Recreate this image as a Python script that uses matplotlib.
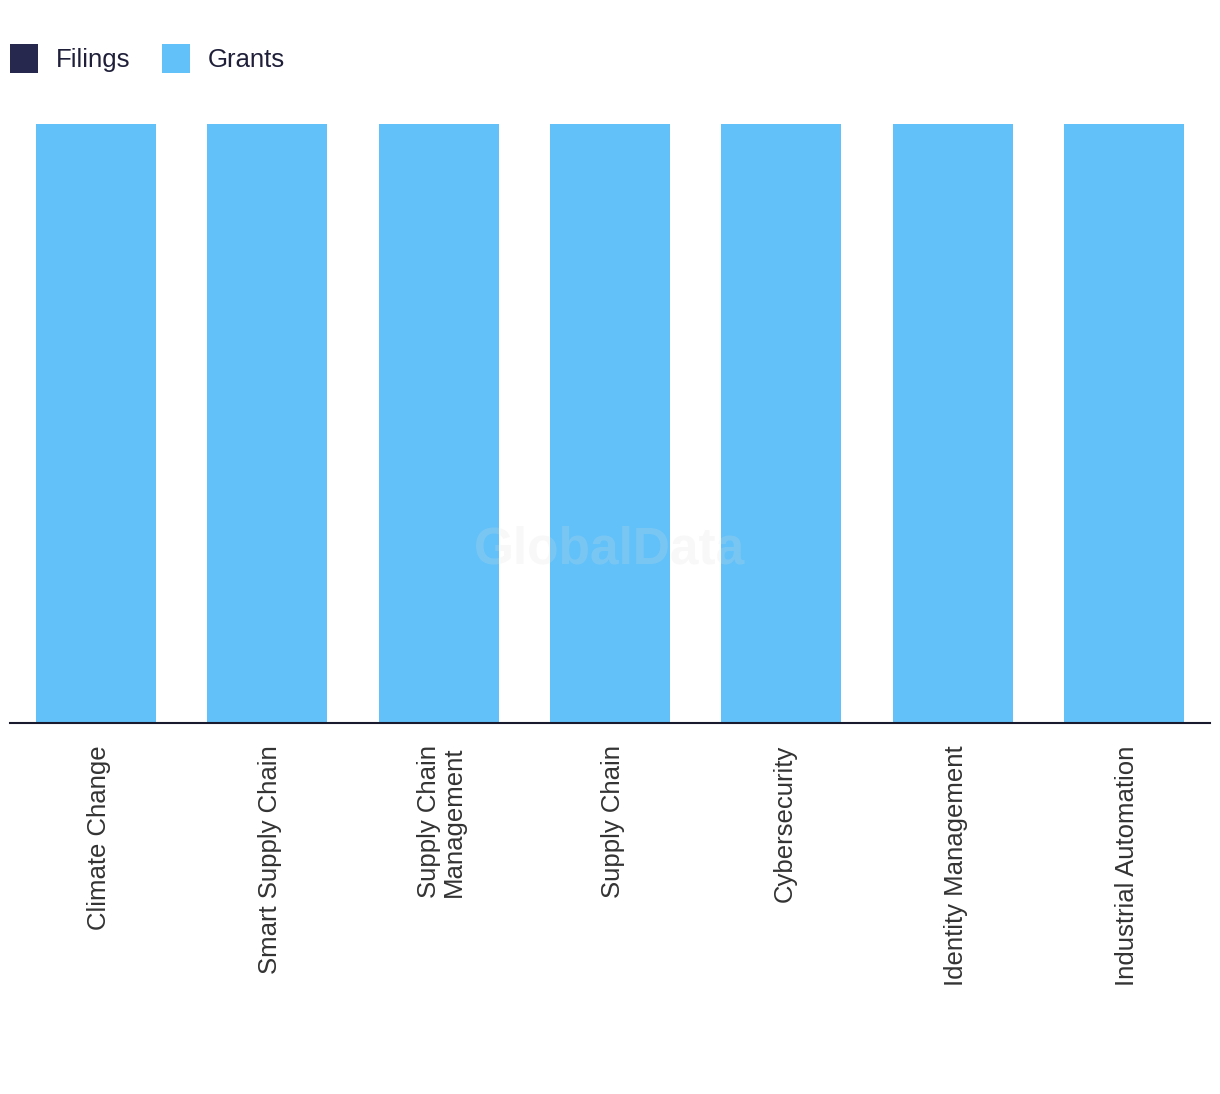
import numpy as np
import matplotlib
matplotlib.use("Agg")
import matplotlib.pyplot as plt
import matplotlib.transforms as mtransforms

# data
categories = ["Climate Change", "Smart Supply Chain", "Supply Chain\nManagement",
              "Supply Chain", "Cybersecurity", "Identity Management",
              "Industrial Automation"]
filings = [0, 0, 0, 0, 0, 0, 0]
grants = [100, 100, 100, 100, 100, 100, 100]

c_filings = "#26284D"
c_grants = "#62C1F9"

fig = plt.figure(figsize=(12.2, 10.94), dpi=100)
ax = fig.add_axes([10 / 1220, 1 - 723 / 1094, 1200 / 1220, (723 - 124) / 1094])

x = np.arange(len(categories))
ax.bar(x, filings, width=0.7, color=c_filings, label="Filings")
ax.bar(x, grants, width=0.7, bottom=filings, color=c_grants, label="Grants")

ax.set_xlim(-0.5, len(categories) - 0.5)
ax.set_ylim(0, 100)
ax.set_xticks(x)
ax.set_xticklabels(categories, rotation=90, fontsize=18.5, color="#333333",
                   family="Liberation Sans", va="top", ha="center",
                   linespacing=1.05)
ax.tick_params(axis="x", length=0, pad=16)
# nudge labels a little to the right
shift = mtransforms.ScaledTranslation(3 / 100, 0, fig.dpi_scale_trans)
for lbl in ax.get_xticklabels():
    lbl.set_transform(lbl.get_transform() + shift)
ax.set_yticks([])
for s in ["left", "right", "top"]:
    ax.spines[s].set_visible(False)
ax.spines["bottom"].set_color("#1a1a2e")
ax.spines["bottom"].set_linewidth(1.5)

# watermark
ax.text(0.5, 1 - (550 - 124) / (723 - 124), "GlobalData", transform=ax.transAxes,
        ha="center", va="center", fontsize=37, fontweight="bold",
        family="Liberation Sans", color="#dddddd", alpha=0.2)

fig.legend(loc="upper left", bbox_to_anchor=(10 / 1220, 1 - 44 / 1094),
           ncol=2, frameon=False, handlelength=1.1, handleheight=1.35,
           handletextpad=0.7, columnspacing=1.2, borderpad=0, borderaxespad=0,
           prop={"family": "Liberation Sans", "size": 18.5}, labelcolor="#1f1f3a")

fig.savefig("out.png", dpi=100)
